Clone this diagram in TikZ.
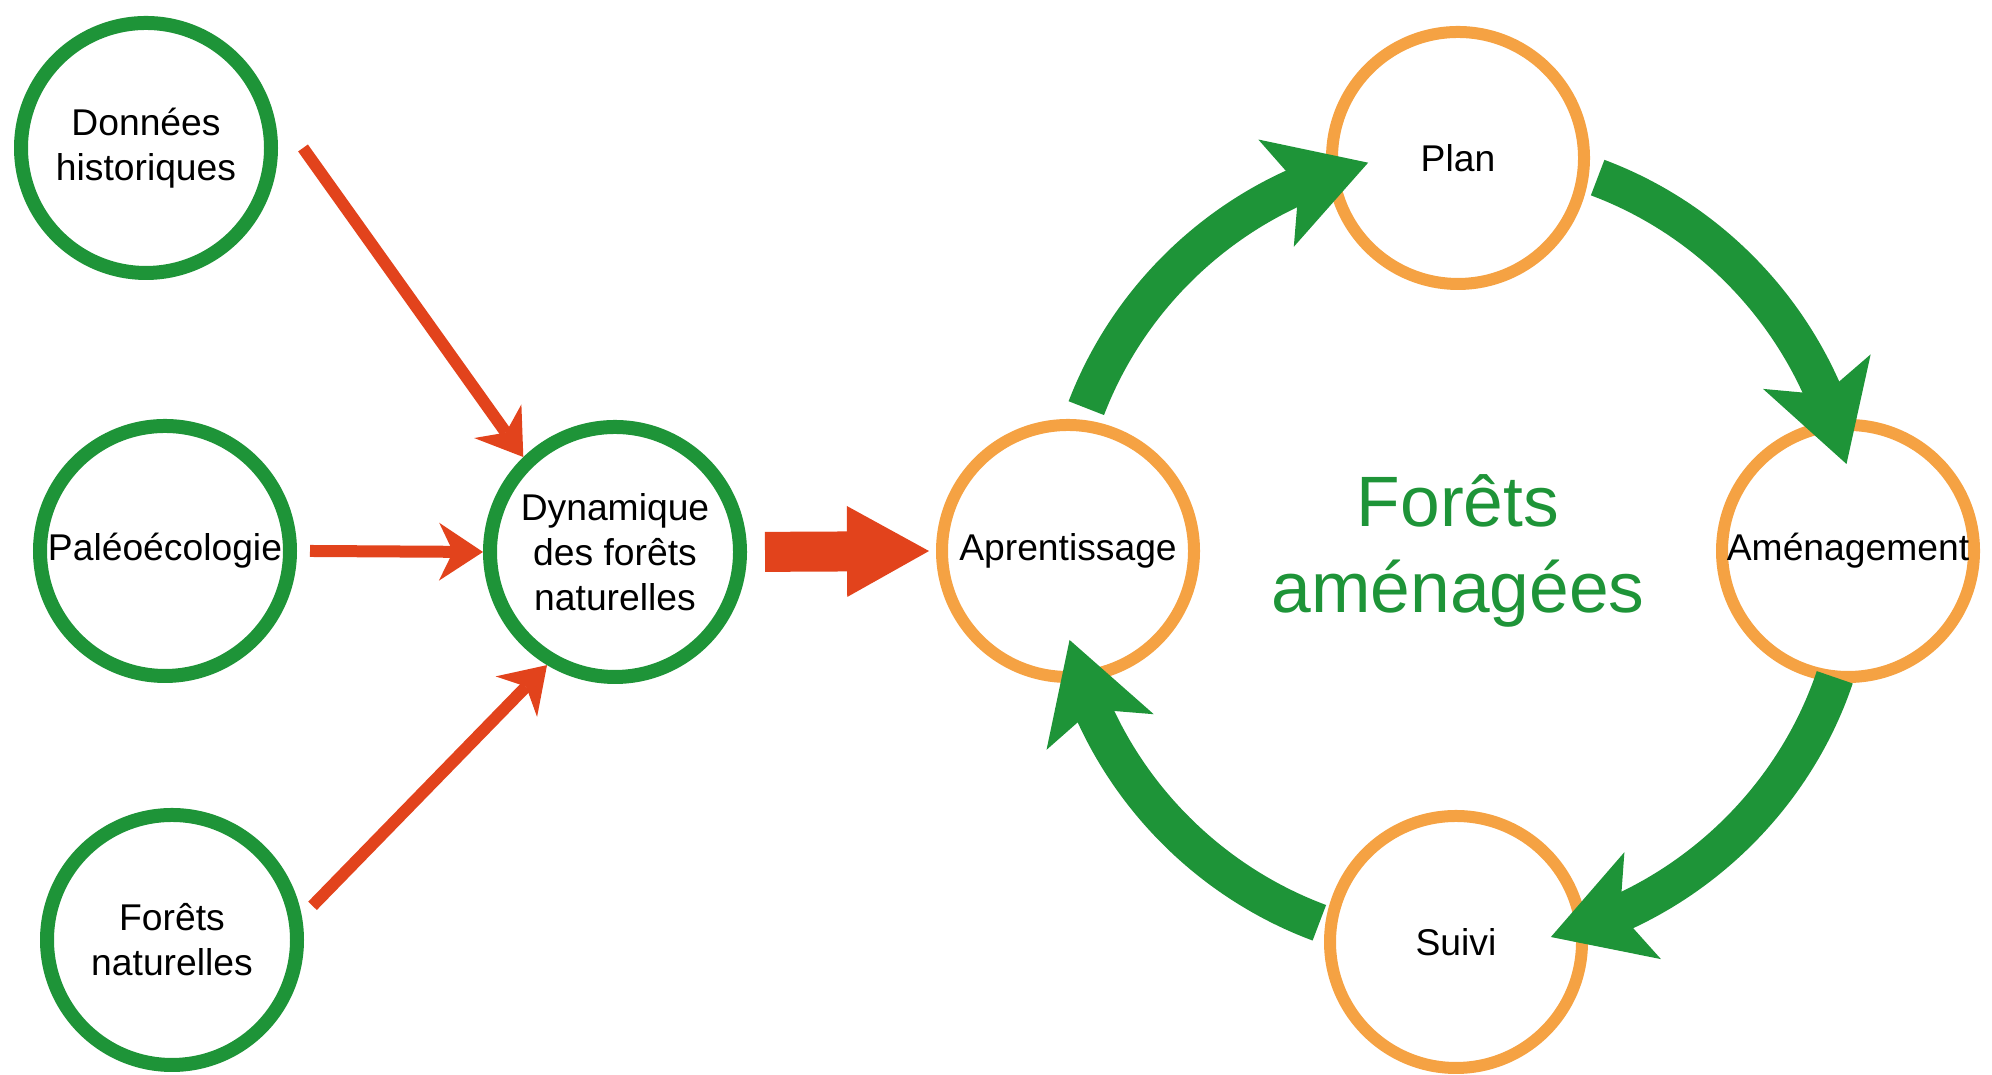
\documentclass[tikz,border=0pt]{standalone}
\usepackage{fontspec}
\setmainfont{Liberation Sans}
\usepackage{xcolor}
\usepackage{tikz}
\usetikzlibrary{calc, arrows.meta, bending}
\definecolor{forestGreen}{HTML}{1E9438}
\definecolor{ringOrange}{HTML}{F5A243}
\definecolor{arrowRed}{HTML}{E2431C}

\begin{document}
\begin{tikzpicture}[
    greenRing/.style={circle, draw=forestGreen, line width=1.4mm, minimum size=25mm,
        inner sep=0pt, align=center, font=\fontsize{10.6}{12.8}\selectfont},
    orangeRing/.style={circle, draw=ringOrange, line width=1.2mm, minimum size=25.2mm,
        inner sep=0pt, align=center, font=\fontsize{10.6}{12.8}\selectfont},
    thinArrow/.style={arrowRed, line width=1.2mm,
        -{Stealth[length=4.4mm, width=5.8mm, inset=1.4mm, line width=0pt]}},
    bigArrow/.style={arrowRed, line width=4mm, shorten <=1.8mm, shorten >=0.7mm,
        -{Triangle[length=8.2mm, width=9.1mm, line width=0pt]}},
    cycleArrow/.style={forestGreen, line width=3.8mm, looseness=0.9,
        -{Stealth[length=9.7mm, width=11.3mm, inset=2.4mm, line width=0pt]}}
]
    \useasboundingbox (0,0) rectangle (19.92,10.75);

    \node[greenRing] (don) at (1.46,9.27) {Données\\historiques};
    \node[greenRing] (paleo) at (1.65,5.24) {Paléoécologie};
    \node[greenRing] (fnat) at (1.72,1.35) {Forêts\\naturelles};
    \node[greenRing] (dyn) at (6.15,5.23) {Dynamique\\des forêts\\naturelles};

    \node[orangeRing] (apr) at (10.68,5.24) {Aprentissage};
    \node[orangeRing] (plan) at (14.58,9.17) {Plan};
    \node[orangeRing] (amen) at (18.48,5.24) {Aménagement};
    \node[orangeRing] (suivi) at (14.56,1.33) {Suivi};

    \node[text=forestGreen, align=center, font=\fontsize{20.3}{24.5}\selectfont]
        (title) at (14.58,5.24) {Forêts\\aménagées};

    \draw[thinArrow] ([xshift=2.5mm]don.east) -- (dyn.134);
    \draw[thinArrow] ([xshift=1.3mm]paleo.east) -- (dyn.west);
    \draw[thinArrow] ([xshift=1.3mm]fnat.15) -- (dyn.239);
    \draw[bigArrow] (dyn.east) -- (apr.west);

    \draw[cycleArrow] ($(apr)+(82.7:1.44)$) to[out=69, in=193] ($(plan)+(183:0.90)$);
    \draw[cycleArrow] ($(plan)+(-8:1.41)$) to[out=-20.5, in=102.5] ($(amen)+(91:0.87)$);
    \draw[cycleArrow] ($(amen)+(264:1.27)$) to[out=-108.6, in=13.5] ($(suivi)+(3:0.95)$);
    \draw[cycleArrow] ($(suivi)+(172:1.38)$) to[out=159.6, in=-77] ($(apr)+(271:0.89)$);
\end{tikzpicture}
\end{document}
